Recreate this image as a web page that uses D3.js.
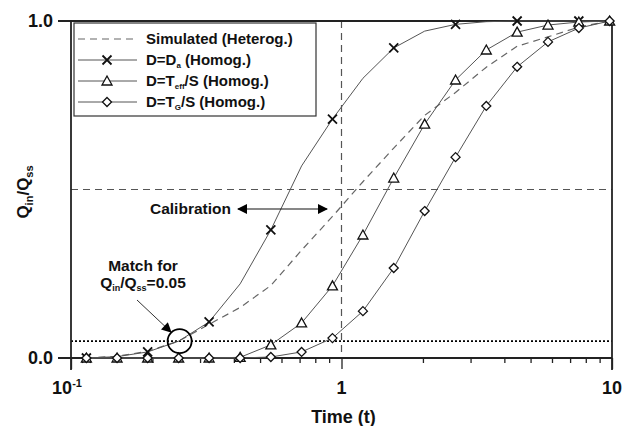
<!DOCTYPE html>
<html lang="en">
<head>
    <meta charset="UTF-8">
    <title>Qin/Qss vs time</title>
    <script src="https://cdn.jsdelivr.net/npm/d3@7"></script>
    <style>
        body { margin: 0; background: #fff; }
        text { font-family: "Liberation Sans", Arial, sans-serif; font-weight: bold; fill: #111; }
    </style>
</head>
<body>
    <script>
        const width = 626;
        const height = 426;

        // time samples (log spaced)
        var time_vals = [0.114, 0.148, 0.192, 0.250, 0.324, 0.422, 0.548, 0.712, 0.926, 1.20, 1.56, 2.03, 2.64, 3.43, 4.46, 5.80, 7.54, 9.80];

        var simulated = [0.0, 0.005, 0.02, 0.05, 0.10, 0.15, 0.215, 0.32, 0.42, 0.523, 0.623, 0.72, 0.788, 0.863, 0.925, 0.953, 0.982, 1.0];
        var d_da      = [0.0, 0.004, 0.018, 0.05, 0.107, 0.22, 0.38, 0.57, 0.709, 0.83, 0.92, 0.97, 0.99, 0.998, 1.0, 1.0, 1.0, 1.0];
        var d_teff    = [0.0, 0.0, 0.0, 0.0, 0.0, 0.002, 0.039, 0.104, 0.214, 0.365, 0.534, 0.694, 0.825, 0.914, 0.967, 0.988, 0.997, 1.0];
        var d_tg      = [0.0, 0.0, 0.0, 0.0, 0.0, 0.0, 0.003, 0.018, 0.059, 0.139, 0.267, 0.436, 0.596, 0.748, 0.864, 0.938, 0.979, 1.0];

        var y_ticks = [0.0, 1.0];
        var x_major = [0.1, 1, 10];
        var x_tick_labels = ['10', '1', '10'];
        var calib_level = 0.5;
        var match_level = 0.05;
        var calib_time = 1;

        var svg = d3.select('body').append('svg')
                    .attr('width', width)
                    .attr('height', height);

        var xScale = d3.scaleLog().domain([0.1, 10]).range([71, 612]);
        var yScale = d3.scaleLinear().domain([0, 1]).range([358, 21]);

        var defs = svg.append('defs');
        defs.append('marker')
            .attr('id', 'head')
            .attr('viewBox', '0 0 10 10')
            .attr('refX', 9).attr('refY', 5)
            .attr('markerWidth', 12).attr('markerHeight', 10)
            .attr('markerUnits', 'userSpaceOnUse')
            .attr('orient', 'auto-start-reverse')
            .append('path')
            .attr('d', 'M0,0L10,5L0,10Z')
            .attr('fill', '#000');

        // ---- reference lines ----
        svg.append('line')
            .attr('x1', xScale(0.1)).attr('x2', xScale(10))
            .attr('y1', yScale(calib_level)).attr('y2', yScale(calib_level))
            .attr('stroke', '#555').attr('stroke-width', 1.2)
            .attr('stroke-dasharray', '7,5');
        svg.append('line')
            .attr('x1', xScale(calib_time)).attr('x2', xScale(calib_time))
            .attr('y1', yScale(1)).attr('y2', yScale(0))
            .attr('stroke', '#555').attr('stroke-width', 1.2)
            .attr('stroke-dasharray', '7,5');
        svg.append('line')
            .attr('x1', xScale(0.1)).attr('x2', xScale(10))
            .attr('y1', yScale(match_level)).attr('y2', yScale(match_level))
            .attr('stroke', '#000').attr('stroke-width', 1.6)
            .attr('stroke-dasharray', '2,2');

        // ---- axes / frame ----
        var frame = svg.append('g').attr('stroke', '#222').attr('stroke-width', 1.8);
        frame.append('line').attr('x1', 58).attr('x2', xScale(10)).attr('y1', yScale(1)).attr('y2', yScale(1));
        frame.append('line').attr('x1', 58).attr('x2', xScale(10)).attr('y1', yScale(0)).attr('y2', yScale(0));
        frame.append('line').attr('x1', xScale(0.1)).attr('x2', xScale(0.1)).attr('y1', yScale(1)).attr('y2', yScale(0) + 12);
        frame.append('line').attr('x1', xScale(10)).attr('x2', xScale(10)).attr('y1', yScale(1)).attr('y2', yScale(0) + 12);

        var xAxis = d3.axisBottom(xScale)
                      .tickValues(xScale.ticks())
                      .tickSize(5)
                      .tickFormat('');
        var gx = svg.append('g')
                    .attr('transform', 'translate(0,' + yScale(0) + ')')
                    .call(xAxis);
        gx.select('.domain').remove();
        gx.selectAll('.tick line')
            .attr('stroke', '#222').attr('stroke-width', 1.3)
            .attr('y2', function(d){ return x_major.indexOf(d) > -1 ? 11 : 5; });

        // x tick labels
        svg.selectAll('.xlab')
            .data(x_major)
            .enter()
            .append('text')
            .attr('class', 'xlab')
            .attr('x', function(d){ return xScale(d) + (d == 0.1 ? -4 : 0); })
            .attr('y', 394)
            .attr('text-anchor', 'middle')
            .attr('font-size', 18)
            .text(function(d, i){ return x_tick_labels[i]; })
            .filter(function(d){ return d == 0.1; })
            .append('tspan')
            .attr('dy', -7)
            .attr('font-size', 11)
            .text('-1');

        // y tick labels
        svg.selectAll('.ylab')
            .data(y_ticks)
            .enter()
            .append('text')
            .attr('class', 'ylab')
            .attr('x', 53)
            .attr('y', function(d){ return yScale(d) + 6; })
            .attr('text-anchor', 'end')
            .attr('font-size', 18)
            .text(function(d){ return d.toFixed(1); });

        // axis titles
        svg.append('text')
            .attr('x', xScale(1) + 2).attr('y', 423)
            .attr('text-anchor', 'middle')
            .attr('font-size', 18)
            .text('Time (t)');

        var ytitle = svg.append('text')
            .attr('transform', 'translate(29,192) rotate(-90)')
            .attr('text-anchor', 'middle')
            .attr('font-size', 17);
        ytitle.append('tspan').text('Q');
        ytitle.append('tspan').attr('font-size', 11).attr('dy', 4).text('in');
        ytitle.append('tspan').attr('dy', -4).text('/Q');
        ytitle.append('tspan').attr('font-size', 11).attr('dy', 4).text('ss');

        // ---- series ----
        var line = d3.line()
                     .x(function(d){ return xScale(d[0]); })
                     .y(function(d){ return yScale(d[1]); });

        function pairs(vals){
            return vals.map(function(v, i){ return [time_vals[i], v]; });
        }

        svg.append('path')
            .attr('d', line(pairs(simulated)))
            .attr('fill', 'none')
            .attr('stroke', '#666').attr('stroke-width', 1.2)
            .attr('stroke-dasharray', '7,5');

        var series = [
            {vals: d_da, shape: 'cross', every: 2},
            {vals: d_teff, shape: 'tri', every: 1},
            {vals: d_tg, shape: 'diamond', every: 1}
        ];

        function shapePath(shape){
            if(shape == 'cross') return 'M-4.5,-4.5L4.5,4.5M-4.5,4.5L4.5,-4.5';
            if(shape == 'tri') return 'M0,-5L5,4L-5,4Z';
            return 'M0,-4.5L4.5,0L0,4.5L-4.5,0Z';
        }

        series.forEach(function(s){
            svg.append('path')
                .attr('d', line(pairs(s.vals)))
                .attr('fill', 'none')
                .attr('stroke', '#555').attr('stroke-width', 1);
        });
        series.forEach(function(s){
            var pts = pairs(s.vals).filter(function(d, i){ return i % s.every == 0; });
            svg.append('g')
                .selectAll('path')
                .data(pts)
                .enter()
                .append('path')
                .attr('transform', function(d){ return 'translate(' + xScale(d[0]) + ',' + yScale(d[1]) + ')'; })
                .attr('d', shapePath(s.shape))
                .attr('fill', s.shape == 'cross' ? 'none' : '#fff')
                .attr('stroke', '#111')
                .attr('stroke-width', s.shape == 'cross' ? 1.8 : 1.3);
        });

        // ---- legend ----
        var legend = svg.append('g');
        legend.append('rect')
            .attr('x', 74).attr('y', 23)
            .attr('width', 242).attr('height', 93)
            .attr('fill', '#fff')
            .attr('stroke', '#333').attr('stroke-width', 1.2);

        var leg_rows = [
            {label: ['Simulated (Heterog.)'], shape: null},
            {label: ['D=D', 'a', ' (Homog.)'], shape: 'cross'},
            {label: ['D=T', 'eff', '/S (Homog.)'], shape: 'tri'},
            {label: ['D=T', 'G', '/S (Homog.)'], shape: 'diamond'}
        ];
        var row_y = [39, 60, 81, 102];

        leg_rows.forEach(function(r, i){
            var y = row_y[i];
            legend.append('line')
                .attr('x1', 78).attr('x2', 137)
                .attr('y1', y).attr('y2', y)
                .attr('stroke', r.shape ? '#555' : '#666')
                .attr('stroke-width', r.shape ? 1 : 1.2)
                .attr('stroke-dasharray', r.shape ? null : '7,5');
            if(r.shape){
                legend.append('path')
                    .attr('transform', 'translate(107,' + y + ')')
                    .attr('d', shapePath(r.shape))
                    .attr('fill', r.shape == 'cross' ? 'none' : '#fff')
                    .attr('stroke', '#111')
                    .attr('stroke-width', r.shape == 'cross' ? 1.8 : 1.3);
            }
            var t = legend.append('text')
                .attr('x', 146).attr('y', y + 5)
                .attr('font-size', 15);
            t.append('tspan').text(r.label[0]);
            if(r.label.length > 1){
                t.append('tspan').attr('font-size', 8).attr('dy', 3).text(r.label[1]);
                t.append('tspan').attr('dy', -3).text(r.label[2]);
            }
        });

        // ---- annotations ----
        svg.append('text')
            .attr('x', 150).attr('y', 214)
            .attr('font-size', 15.5)
            .text('Calibration');
        svg.append('line')
            .attr('x1', 238).attr('x2', 327)
            .attr('y1', 209).attr('y2', 209)
            .attr('stroke', '#111').attr('stroke-width', 1.2)
            .attr('marker-start', 'url(#head)')
            .attr('marker-end', 'url(#head)');

        svg.append('text')
            .attr('x', 143).attr('y', 271)
            .attr('text-anchor', 'middle')
            .attr('font-size', 15.5)
            .text('Match for');
        var mt = svg.append('text')
            .attr('x', 143).attr('y', 288)
            .attr('text-anchor', 'middle')
            .attr('font-size', 15.5);
        mt.append('tspan').text('Q');
        mt.append('tspan').attr('font-size', 9).attr('dy', 3).text('in');
        mt.append('tspan').attr('dy', -3).text('/Q');
        mt.append('tspan').attr('font-size', 9).attr('dy', 3).text('ss');
        mt.append('tspan').attr('dy', -3).text('=0.05');

        svg.append('line')
            .attr('x1', 137).attr('y1', 300)
            .attr('x2', 171).attr('y2', 332)
            .attr('stroke', '#333').attr('stroke-width', 1)
            .attr('marker-end', 'url(#head)');

        svg.append('circle')
            .attr('cx', xScale(time_vals[3]) + 1)
            .attr('cy', yScale(match_level))
            .attr('r', 12)
            .attr('fill', 'none')
            .attr('stroke', '#000').attr('stroke-width', 1.8);
    </script>
</body>
</html>
